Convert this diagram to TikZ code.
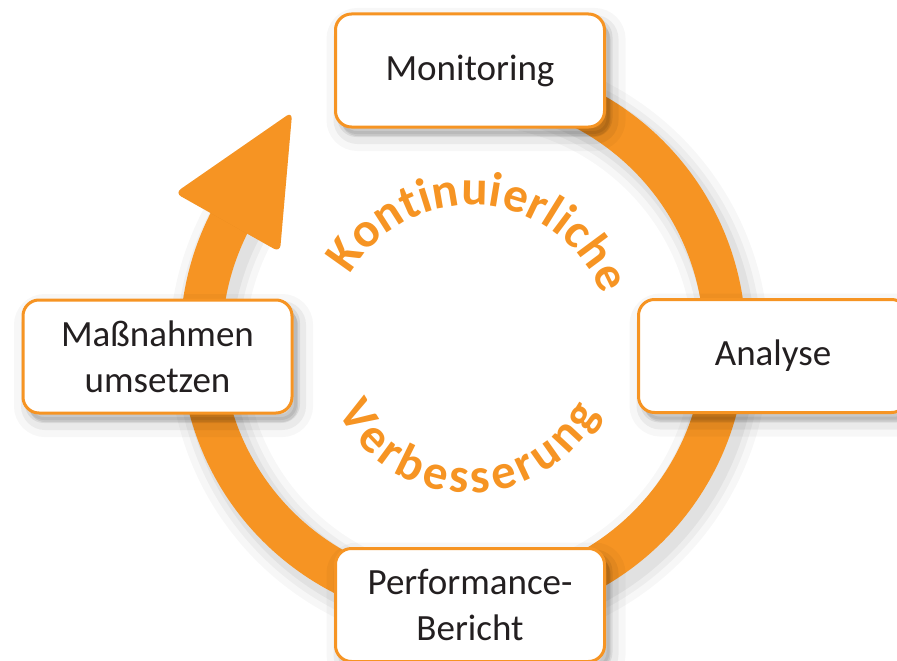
\documentclass[tikz,border=0pt]{standalone}
\usepackage{fontspec}
\setmainfont{Carlito}
\usetikzlibrary{positioning, shadows, decorations.text}

\definecolor{kvpOrange}{RGB}{246,148,35}
\definecolor{kvpText}{RGB}{35,31,32}
\newcommand{\kvpArcFont}{\fontsize{49}{49}\selectfont\bfseries\color{kvpOrange}}

\tikzset{
	stage/.style = {draw = kvpOrange, line width = 3pt, fill = white, rounded corners = 16pt,
		minimum width = 269pt, minimum height = 113pt, inner sep = 0pt, align = center,
		text = kvpText, font = \fontsize{37}{46}\selectfont,
		drop shadow = {opacity = 0.03, fill = black, draw = black, line width = 30pt, shadow xshift = 6pt, shadow yshift = -9pt},
		drop shadow = {opacity = 0.05, fill = black, draw = black, line width = 16pt, shadow xshift = 6pt, shadow yshift = -9pt},
		drop shadow = {opacity = 0.07, fill = black, draw = black, line width = 6pt, shadow xshift = 5pt, shadow yshift = -7pt}},
	ring/.style = {draw = kvpOrange, line width = 42pt},
}

\begin{document}
\begin{tikzpicture}[x = 1pt, y = 1pt]
	\def\ringR{262}
	\useasboundingbox (0,0) rectangle (897,-661);
	\coordinate (ctr) at (463,-341);

	\begin{scope}[shift = {(ctr)}]
		\foreach \w/\o in {76/0.03, 62/0.04, 50/0.05}
			\draw[black, line width = \w pt, opacity = \o, xshift = 6pt, yshift = -8pt]
				(100:\ringR) arc[start angle = 100, end angle = -210, radius = \ringR];
		\draw[ring] (100:\ringR) arc[start angle = 100, end angle = -210, radius = \ringR];

		\coordinate (tip) at (126.7:285.8);
		\coordinate (wingA) at (152.8:323.8);
		\coordinate (wingB) at (154.1:203.5);
		\fill[black, opacity = 0.06, rounded corners = 7pt, xshift = 6pt, yshift = -8pt] (tip) -- (wingA) -- (wingB) -- cycle;
		\fill[kvpOrange, rounded corners = 7pt] (tip) -- (wingA) -- (wingB) -- cycle;
	\end{scope}

	\node[stage] (monitoring) at (470,-70.5) {Monitoring};
	\node[stage] (analyse) at (773,-356) {Analyse};
	\node[stage] (bericht) at (470,-605) {Performance-\\Bericht};
	\node[stage] (massnahmen) at (157.5,-356.5) {Maßnahmen\\umsetzen};

	\begin{scope}[shift = {(471,-345)}]
		\path[decorate, decoration = {text along path, text align = {fit to path},
			text = {|\kvpArcFont|Kontinuierliche}}]
			(150:140) arc[start angle = 150, end angle = 21, radius = 140];
	\end{scope}

	\begin{scope}[shift = {(469,-347)}]
		\path[decorate, decoration = {text along path, text align = {fit to path},
			text = {|\kvpArcFont|Verbesserung}}]
			(206:146) arc[start angle = 206, end angle = 333, radius = 146];
	\end{scope}
\end{tikzpicture}
\end{document}
